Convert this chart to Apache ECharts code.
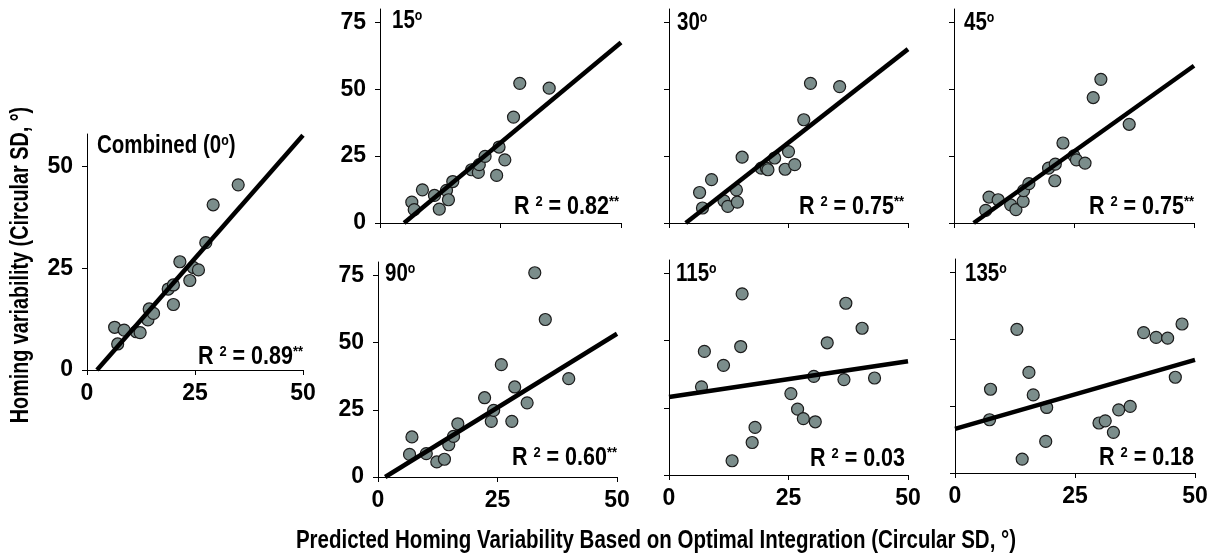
<!DOCTYPE html>
<html><head><meta charset="utf-8">
<script src="https://cdn.jsdelivr.net/npm/echarts@6/dist/echarts.min.js"></script>
<style>html,body{margin:0;padding:0;background:#fff}#c{width:1211px;height:558px}</style>
</head><body><div id="c"></div>
<script>
// ---------- data ----------
const panelNames = ['Combined (0', '15', '30', '45', '90', '115', '135'];
const xTicks = [0, 25, 50];
const yTicks = [0, 25, 50, 75];

const combX = [6.4,7.1,8.6,11.4,12.3,14.1,14.4,15.4,18.8,20.0,20.0,21.5,23.8,24.6,25.8,27.5,29.2,35.0];
const combY = [10.5,6.4,9.8,9.4,9.2,12.3,15.0,13.9,19.9,20.9,16.1,26.6,22.0,25.2,24.6,31.3,40.6,45.5];
const d15X = [6.6,7.1,8.8,11.3,12.3,13.8,14.2,15.1,19.0,20.4,20.6,21.8,24.2,24.7,25.9,27.7,29.0,35.1];
const d15Y = [7.8,5.0,12.4,10.3,5.2,12.2,8.7,15.5,19.9,18.9,21.8,24.9,17.8,28.4,23.6,39.6,52.2,50.4];
const d30X = [6.4,7.0,8.9,11.5,12.3,14.1,14.3,15.3,19.3,20.4,20.7,22.1,24.3,25.0,26.3,28.2,29.6,35.7];
const d30Y = [11.4,5.6,16.2,8.3,6.2,12.4,7.8,24.6,20.5,20.5,19.9,24.3,20.1,26.7,21.8,38.6,52.2,51.0];
const d45X = [6.6,7.3,9.2,11.8,12.9,14.4,14.5,15.6,19.7,21.1,21.0,22.7,25.0,25.5,27.3,29.0,30.6,36.5];
const d45Y = [4.7,9.7,8.7,6.8,5.0,8.1,12.1,14.7,20.5,22.0,15.8,29.9,25.1,23.6,22.4,46.9,53.7,36.9];
const d90X = [6.6,7.1,10.1,12.3,13.9,14.8,15.8,16.7,22.3,23.7,24.2,25.8,28.0,28.6,31.2,32.8,35.0,39.9];
const d90Y = [8.4,14.9,8.7,5.6,6.6,12.0,15.1,19.8,29.5,20.7,24.8,41.8,20.7,33.5,27.6,76.0,58.6,36.6];
const d115X = [6.8,7.4,11.4,13.2,15.0,15.3,17.4,18.0,25.5,26.9,28.1,30.3,30.6,33.1,36.6,37.0,40.4,43.0];
const d115Y = [32.8,46.0,40.8,5.3,47.8,67.4,12.1,17.7,30.3,24.5,21.0,36.7,19.8,49.2,35.5,63.9,54.6,36.1];
const d135X = [7.2,7.4,12.9,14.0,15.4,16.3,18.9,19.1,30.0,31.3,33.0,34.1,36.5,39.3,41.9,44.3,45.9,47.3];
const d135Y = [19.9,31.3,53.7,5.2,37.6,29.2,11.8,24.5,18.7,19.5,15.2,23.6,24.9,52.5,50.7,50.4,35.8,55.7];

const fitSlopes = [1.21, 1.5, 1.398, 1.281, 1.099, 0.266, 0.516];
const fitIntercepts = [-2.8, -7.5, -4.9, -5.25, -1.65, 29.0, 16.5];
const r2Values = ['0.89', '0.82', '0.75', '0.75', '0.60', '0.03', '0.18'];
const r2Stars = ['**', '**', '**', '**', '**', '', ''];
const yMaxes = [58, 80, 80, 80, 80, 80, 80];
const xMax = 50;

const xTitle = 'Predicted Homing Variability Based on Optimal Integration (Circular SD, °)';
const yTitle = 'Homing variability (Circular SD, °)';

// ---------- layout ----------
const FONT = "'Liberation Sans', Arial, sans-serif";
const NARROW = 0.82;
const layout = [
  {left:87,  top:134, width:216, height:236, xl:true,  yl:true,  lab:[97,146],  r2:[303,357]},
  {left:380, top:9,   width:241, height:214, xl:false, yl:true,  lab:[392,21],  r2:[619,207]},
  {left:669, top:9,   width:239, height:214, xl:false, yl:false, lab:[677,23],  r2:[904,207]},
  {left:954, top:9,   width:240, height:214, xl:false, yl:false, lab:[964,23],  r2:[1194,207]},
  {left:378, top:262, width:239, height:215, xl:true,  yl:true,  lab:[385,274], r2:[617,458]},
  {left:669, top:260, width:239, height:215, xl:true,  yl:false, lab:[676,274], r2:[905,459]},
  {left:955, top:259, width:240, height:214, xl:true,  yl:false, lab:[965,274], r2:[1194,458]}
];
const dataX = [combX, d15X, d30X, d45X, d90X, d115X, d135X];
const dataY = [combY, d15Y, d30Y, d45Y, d90Y, d115Y, d135Y];

const grids = [], xAxes = [], yAxes = [], series = [], graphics = [];
const axisLine = {show:true, onZero:false, lineStyle:{color:'#000', width:1}};
const labelStyle = {color:'#000', fontFamily:FONT, fontWeight:'bold', fontSize:23};

layout.forEach((L, i) => {
  grids.push({left:L.left, top:L.top, width:L.width, height:L.height, containLabel:false});
  const yT = yTicks.filter(v => v <= yMaxes[i]);
  xAxes.push({
    type:'value', gridIndex:i, min:0, max:xMax, splitLine:{show:false},
    axisLine: axisLine,
    axisTick:{show:true, length:5, lineStyle:{color:'#000', width:1}, customValues:xTicks},
    axisLabel:Object.assign({show:L.xl, margin:12, customValues:xTicks}, labelStyle)
  });
  yAxes.push({
    type:'value', gridIndex:i, min:0, max:yMaxes[i], splitLine:{show:false},
    axisLine: axisLine,
    axisTick:{show:true, length:5, lineStyle:{color:'#000', width:1}, customValues:yT},
    axisLabel:Object.assign({show:L.yl, margin:14, customValues:yT}, labelStyle)
  });
  const pts = dataX[i].map((x, k) => [x, dataY[i][k]]);
  series.push({
    type:'scatter', xAxisIndex:i, yAxisIndex:i, data:pts, symbol:'circle', symbolSize:12,
    itemStyle:{color:'#7b8d8b', borderColor:'#1b1b1b', borderWidth:1.2, opacity:1},
    z:2, silent:true
  });
  const a = fitIntercepts[i], b = fitSlopes[i];
  const x0 = Math.max(0, -a / b);
  const x1 = Math.min(xMax, (yMaxes[i] - a) / b);
  series.push({
    type:'line', xAxisIndex:i, yAxisIndex:i, data:[[x0, a + b*x0], [x1, a + b*x1]],
    symbol:'none', lineStyle:{color:'#000', width:4.5}, z:3, silent:true, animation:false
  });
  graphics.push({
    type:'text', x:L.lab[0], y:L.lab[1], scaleX:NARROW,
    style:{text: panelNames[i] + '{s|o}' + (i === 0 ? ')' : ''), fill:'#000', font:'bold 25px ' + FONT,
      textAlign:'left', textVerticalAlign:'middle',
      rich:{s:{fontSize:15, fontWeight:'bold', fontFamily:FONT, verticalAlign:'top', lineHeight:14, fill:'#000'}}}
  });
  graphics.push({
    type:'text', x:L.r2[0], y:L.r2[1], scaleX:0.86,
    style:{text:'{m|R }{s|2}{m| = ' + r2Values[i] + '}' + (r2Stars[i] ? '{s|' + r2Stars[i] + '}' : ''),
      textAlign:'right', textVerticalAlign:'middle',
      rich:{
        m:{fontSize:25, fontWeight:'bold', fontFamily:FONT, lineHeight:25, fill:'#000'},
        s:{fontSize:15, fontWeight:'bold', fontFamily:FONT, lineHeight:15, verticalAlign:'top', fill:'#000'}
      }}
  });
});

graphics.push({type:'text', x:656, y:541, scaleX:NARROW,
  style:{text:xTitle, fill:'#000', font:'bold 25px ' + FONT, textAlign:'center', textVerticalAlign:'middle'}});
graphics.push({type:'text', x:21, y:265, rotation:Math.PI/2, scaleX:0.79,
  style:{text:yTitle, fill:'#000', font:'bold 25px ' + FONT, textAlign:'center', textVerticalAlign:'middle'}});

const chart = echarts.init(document.getElementById('c'), null, {renderer:'canvas'});
chart.setOption({
  animation:false, backgroundColor:'#fff',
  grid:grids, xAxis:xAxes, yAxis:yAxes, series:series, graphic:graphics
});
</script></body></html>
